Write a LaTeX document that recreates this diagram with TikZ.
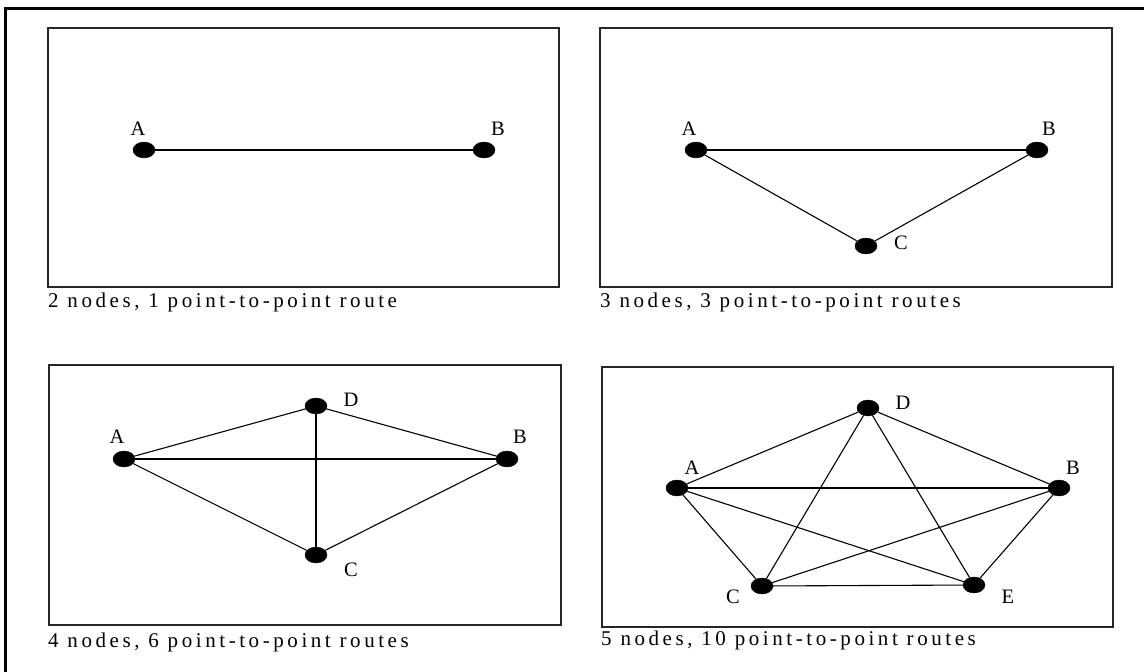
\documentclass[tikz,border=0pt]{standalone}
\usepackage{fontspec}
\setmainfont{Liberation Serif}
\usetikzlibrary{shapes.geometric}
\begin{document}
\begin{tikzpicture}[x=1pt,y=-1pt,
  vertex/.style={ellipse,fill=black,draw=black,minimum width=22pt,minimum height=16pt,inner sep=0pt},
  vlabel/.style={font=\fontsize{20.5}{22}\selectfont,inner sep=0pt},
  route/.style={line width=1.1pt},
  panel/.style={draw=black!85,line width=1.4pt},
  caption/.style={font=\fontsize{21}{22}\selectfont\addfontfeature{LetterSpace=17},anchor=base west,inner sep=0pt}]

\useasboundingbox (0,0) rectangle (1144,672);

% outer frame (top and left edges)
\draw[line width=3pt] (1144,8.5) -- (5.5,8.5) -- (5.5,672);

% ---------- 2 nodes ----------
\draw[panel] (48,28) rectangle (559,287);
\node[caption] (cap1) at (48,307) {2 nodes, 1 point-to-point route};
\node[vertex] (a1) at (144,150) {};
\node[vertex] (b1) at (484,150) {};
\draw[route] (a1) -- (b1);
\node[vlabel] (la1) at (138,129) {A};
\node[vlabel] (lb1) at (498,129) {B};

% ---------- 3 nodes ----------
\draw[panel] (600,28) rectangle (1112,287);
\node[caption] (cap2) at (600,307) {3 nodes, 3 point-to-point routes};
\node[vertex] (a2) at (696,150) {};
\node[vertex] (b2) at (1037,150) {};
\node[vertex] (c2) at (866,246) {};
\draw[route] (a2) -- (b2);
\draw[route] (a2) -- (c2);
\draw[route] (b2) -- (c2);
\node[vlabel] (la2) at (689,129) {A};
\node[vlabel] (lb2) at (1049,129) {B};
\node[vlabel] (lc2) at (901,243) {C};

% ---------- 4 nodes ----------
\draw[panel] (49,365) rectangle (561,625);
\node[caption] (cap3) at (48,647) {4 nodes, 6 point-to-point routes};
\node[vertex] (a3) at (124,459) {};
\node[vertex] (d3) at (316,406) {};
\node[vertex] (b3) at (507,459) {};
\node[vertex] (c3) at (316,555) {};
\draw[route] (a3) -- (d3);
\draw[route] (a3) -- (b3);
\draw[route] (a3) -- (c3);
\draw[route] (d3) -- (b3);
\draw[route] (d3) -- (c3);
\draw[route] (b3) -- (c3);
\node[vlabel] (la3) at (117,437) {A};
\node[vlabel] (ld3) at (351,400) {D};
\node[vlabel] (lb3) at (520,437) {B};
\node[vlabel] (lc3) at (351,570) {C};

% ---------- 5 nodes ----------
\draw[panel] (602,367) rectangle (1113,627);
\node[caption] (cap4) at (601,645) {5 nodes, 10 point-to-point routes};
\node[vertex] (a4) at (677,488) {};
\node[vertex] (d4) at (868,408) {};
\node[vertex] (b4) at (1059,488) {};
\node[vertex] (c4) at (762,586) {};
\node[vertex] (e4) at (974,585) {};
\draw[route] (a4) -- (d4);
\draw[route] (a4) -- (b4);
\draw[route] (a4) -- (c4);
\draw[route] (a4) -- (e4);
\draw[route] (d4) -- (b4);
\draw[route] (d4) -- (c4);
\draw[route] (d4) -- (e4);
\draw[route] (b4) -- (c4);
\draw[route] (b4) -- (e4);
\draw[route] (c4) -- (e4);
\node[vlabel] (la4) at (692,468) {A};
\node[vlabel] (ld4) at (903,403) {D};
\node[vlabel] (lb4) at (1073,468) {B};
\node[vlabel] (lc4) at (733,597) {C};
\node[vlabel] (le4) at (1008,597) {E};
\end{tikzpicture}
\end{document}
